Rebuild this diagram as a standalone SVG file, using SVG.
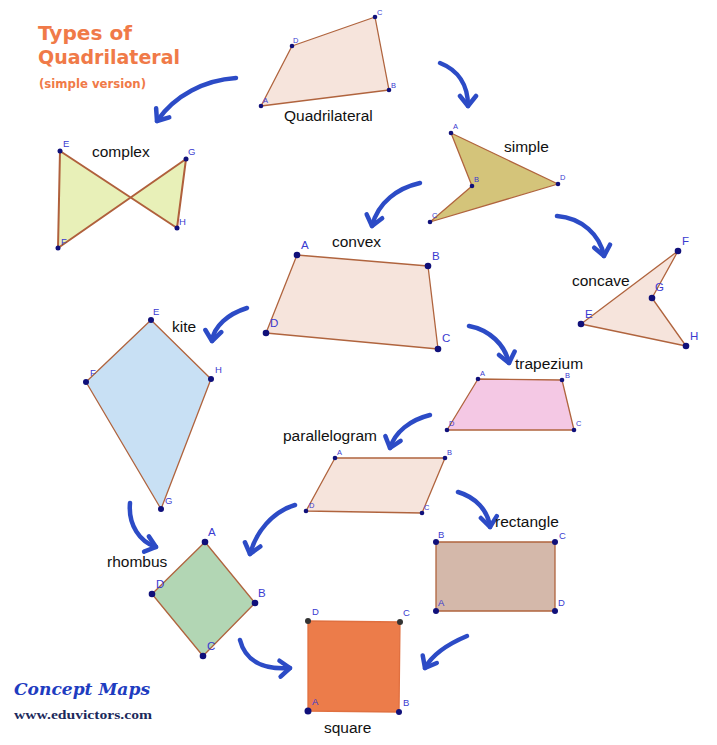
<svg xmlns="http://www.w3.org/2000/svg" width="717" height="745" viewBox="0 0 717 745">
<style>
.lbl{font-family:"Liberation Sans",Arial,sans-serif;font-size:15.5px;fill:#111}
.v{font-family:"Liberation Sans",Arial,sans-serif;fill:#3a3ad0}
.vs{font-size:7.5px}
.vm{font-size:9.5px}
.vl{font-size:11.5px}
.sh{stroke:#b0643e;stroke-width:1.3;stroke-linejoin:round}
.pt{fill:#10107a}
.arr{fill:none;stroke:#2c4bc6;stroke-width:4.5;stroke-linecap:round;stroke-linejoin:round}
.title{font-family:"DejaVu Sans",Verdana,sans-serif;font-weight:bold;fill:#f07a48}
</style>
<defs>
<marker id="ah" viewBox="-13 -11 16 22" markerUnits="userSpaceOnUse" markerWidth="16" markerHeight="22" refX="0" refY="0" orient="auto">
<path d="M-10,-8 L0,0 L-10,8" fill="none" stroke="#2c4bc6" stroke-width="4.5" stroke-linecap="round" stroke-linejoin="round"/>
</marker>
</defs>
<rect width="717" height="745" fill="#fff"/>

<g id="title">
<text class="title" x="38" y="40" font-size="19.5" textLength="94" lengthAdjust="spacingAndGlyphs">Types of</text>
<text class="title" x="38" y="64" font-size="19.5" textLength="142" lengthAdjust="spacingAndGlyphs">Quadrilateral</text>
<text class="title" x="39" y="88" font-size="11.5" textLength="107" lengthAdjust="spacingAndGlyphs">(simple version)</text>
</g>

<g id="connectors">
<path class="arr" marker-end="url(#ah)" d="M236,78 C205,80 175,95 157,121"/>
<path class="arr" marker-end="url(#ah)" d="M440,63 C458,70 468,85 468,106"/>
<path class="arr" marker-end="url(#ah)" d="M420,183 C398,188 378,202 372,226"/>
<path class="arr" marker-end="url(#ah)" d="M557,216 C582,218 600,235 604,256"/>
<path class="arr" marker-end="url(#ah)" d="M247,308 C228,314 214,326 212,341"/>
<path class="arr" marker-end="url(#ah)" d="M469,326 C490,330 505,345 509,363"/>
<path class="arr" marker-end="url(#ah)" d="M430,415 C410,420 395,432 390,448"/>
<path class="arr" marker-end="url(#ah)" d="M295,505 C272,512 256,532 250,554"/>
<path class="arr" marker-end="url(#ah)" d="M458,492 C475,497 488,510 490,527"/>
<path class="arr" marker-end="url(#ah)" d="M130,503 C128,525 140,542 156,547"/>
<path class="arr" marker-end="url(#ah)" d="M240,640 C245,660 262,670 290,668"/>
<path class="arr" marker-end="url(#ah)" d="M467,636 C448,644 432,655 425,668"/>
</g>

<g id="quadrilateral">
<polygon class="sh" points="261,106 292,46 375,17 389,90" fill="#f6e4dc" stroke="#c89a80"/>
<circle class="pt" cx="261" cy="106" r="2.3"/><circle class="pt" cx="292" cy="46" r="2.3"/><circle class="pt" cx="375" cy="17" r="2.3"/><circle class="pt" cx="389" cy="90" r="2.3"/>
<text class="v vs" x="263" y="103">A</text><text class="v vs" x="293" y="43">D</text><text class="v vs" x="377" y="15">C</text><text class="v vs" x="391" y="88">B</text>
<text class="lbl" x="284" y="121">Quadrilateral</text>
</g>

<g id="complex">
<polygon points="60,151 177,228 186,159 58,248" fill="#e8f0b8" stroke="#b0603c" stroke-width="2" stroke-linejoin="round"/>
<circle class="pt" cx="60" cy="151" r="2.5"/><circle class="pt" cx="177" cy="228" r="2.5"/><circle class="pt" cx="186" cy="159" r="2.5"/><circle class="pt" cx="58" cy="248" r="2.5"/>
<text class="v vm" x="63" y="147">E</text><text class="v vm" x="188" y="155">G</text><text class="v vm" x="179" y="225">H</text><text class="v vm" x="61" y="245">F</text>
<text class="lbl" x="92" y="157">complex</text>
</g>

<g id="simple">
<polygon class="sh" points="451,133 472,186 430,222 558,184" fill="#d4c47a" stroke="#b0904e"/>
<circle class="pt" cx="451" cy="133" r="2.3"/><circle class="pt" cx="472" cy="186" r="2.3"/><circle class="pt" cx="430" cy="222" r="2.3"/><circle class="pt" cx="558" cy="184" r="2.3"/>
<text class="v vs" x="453" y="129">A</text><text class="v vs" x="474" y="182">B</text><text class="v vs" x="432" y="218">C</text><text class="v vs" x="560" y="180">D</text>
<text class="lbl" x="504" y="152">simple</text>
</g>

<g id="convex">
<polygon class="sh" points="297,255 428,266 438,349 266,333" fill="#f6e4dc"/>
<circle class="pt" cx="297" cy="255" r="3.3"/><circle class="pt" cx="428" cy="266" r="3.3"/><circle class="pt" cx="438" cy="349" r="3.3"/><circle class="pt" cx="266" cy="333" r="3.3"/>
<text class="v vl" x="301" y="249">A</text><text class="v vl" x="432" y="260">B</text><text class="v vl" x="442" y="342">C</text><text class="v vl" x="270" y="327">D</text>
<text class="lbl" x="332" y="247">convex</text>
</g>

<g id="concave">
<polygon class="sh" points="581,324 678,251 652,298 686,346" fill="#f6e4dc"/>
<circle class="pt" cx="581" cy="324" r="3.3"/><circle class="pt" cx="678" cy="251" r="3.3"/><circle class="pt" cx="652" cy="298" r="3.3"/><circle class="pt" cx="686" cy="346" r="3.3"/>
<text class="v vl" x="585" y="318">E</text><text class="v vl" x="682" y="245">F</text><text class="v vl" x="655" y="291">G</text><text class="v vl" x="690" y="340">H</text>
<text class="lbl" x="572" y="286">concave</text>
</g>

<g id="kite">
<polygon class="sh" points="151,320 211,379 161,509 86,382" fill="#c8e0f4"/>
<circle class="pt" cx="151" cy="320" r="3"/><circle class="pt" cx="211" cy="379" r="3"/><circle class="pt" cx="161" cy="509" r="3"/><circle class="pt" cx="86" cy="382" r="3"/>
<text class="v vm" x="153" y="315">E</text><text class="v vm" x="215" y="373">H</text><text class="v vm" x="165" y="504">G</text><text class="v vm" x="90" y="376">F</text>
<text class="lbl" x="172" y="332">kite</text>
</g>

<g id="trapezium">
<polygon class="sh" points="478,379 562,380 574,430 447,430" fill="#f4c8e4"/>
<circle class="pt" cx="478" cy="379" r="2.3"/><circle class="pt" cx="562" cy="380" r="2.3"/><circle class="pt" cx="574" cy="430" r="2.3"/><circle class="pt" cx="447" cy="430" r="2.3"/>
<text class="v vs" x="480" y="376">A</text><text class="v vs" x="565" y="378">B</text><text class="v vs" x="576" y="426">C</text><text class="v vs" x="449" y="426">D</text>
<text class="lbl" x="515" y="369">trapezium</text>
</g>

<g id="parallelogram">
<polygon class="sh" points="335,458 445,458 422,513 306,511" fill="#f6e4dc"/>
<circle class="pt" cx="335" cy="458" r="2.3"/><circle class="pt" cx="445" cy="458" r="2.3"/><circle class="pt" cx="422" cy="513" r="2.3"/><circle class="pt" cx="306" cy="511" r="2.3"/>
<text class="v vs" x="337" y="455">A</text><text class="v vs" x="447" y="455">B</text><text class="v vs" x="424" y="510">C</text><text class="v vs" x="309" y="508">D</text>
<text class="lbl" x="283" y="441">parallelogram</text>
</g>

<g id="rectangle">
<polygon class="sh" points="436,542 555,542 555,611 436,611" fill="#d4b8aa"/>
<circle class="pt" cx="436" cy="542" r="3"/><circle class="pt" cx="555" cy="542" r="3"/><circle class="pt" cx="555" cy="611" r="3"/><circle class="pt" cx="436" cy="611" r="3"/>
<text class="v vm" x="438" y="538">B</text><text class="v vm" x="559" y="539">C</text><text class="v vm" x="558" y="606">D</text><text class="v vm" x="438" y="606">A</text>
<text class="lbl" x="495" y="527" font-size="15">rectangle</text>
</g>

<g id="rhombus">
<polygon class="sh" points="205,542 255,603 203,656 152,594" fill="#b2d6b4"/>
<circle class="pt" cx="205" cy="542" r="3.3"/><circle class="pt" cx="255" cy="603" r="3.3"/><circle class="pt" cx="203" cy="656" r="3.3"/><circle class="pt" cx="152" cy="594" r="3.3"/>
<text class="v vl" x="208" y="536">A</text><text class="v vl" x="258" y="597">B</text><text class="v vl" x="207" y="650">C</text><text class="v vl" x="156" y="588">D</text>
<text class="lbl" x="107" y="567">rhombus</text>
</g>

<g id="square">
<polygon points="308,621 400,622 399,712 308,711" fill="#ec7c4a" stroke="#e07040" stroke-width="1.3"/>
<circle cx="308" cy="621" r="3" fill="#333"/><circle cx="400" cy="622" r="3" fill="#333"/><circle class="pt" cx="399" cy="712" r="3"/><circle class="pt" cx="308" cy="711" r="3.5"/>
<text class="v vm" x="312" y="615" fill="#666">D</text><text class="v vm" x="403" y="616" fill="#666">C</text><text class="v vm" x="403" y="706">B</text><text class="v vm" x="312" y="705" fill="#a0a0f0">A</text>
<text class="lbl" x="324" y="733">square</text>
</g>

<g id="logo">
<text x="14" y="695" font-family="'DejaVu Serif','Liberation Serif',serif" font-style="italic" font-weight="bold" font-size="16" fill="#1e3cc0" textLength="136" lengthAdjust="spacingAndGlyphs">Concept Maps</text>
<text x="14" y="719" font-family="'Liberation Serif',serif" font-weight="bold" font-size="13" fill="#1c2a5c" textLength="138" lengthAdjust="spacingAndGlyphs">www.eduvictors.com</text>
</g>
</svg>
